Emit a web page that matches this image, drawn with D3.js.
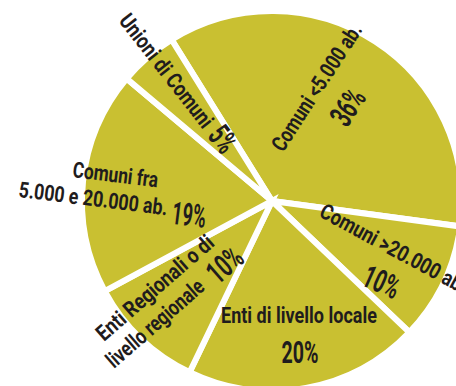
<!DOCTYPE html>
<html>
<head>
<meta charset="utf-8">
<script src="https://cdn.jsdelivr.net/npm/d3@7/dist/d3.min.js"></script>
<style>
  html, body { margin: 0; padding: 0; background: #ffffff; overflow: hidden; }
  svg { display: block; }
  text { font-family: 'Roboto', 'DejaVu Sans Condensed', sans-serif; font-weight: bold; fill: #1f1c1d; }
</style>
</head>
<body>
<svg id="chart" width="456" height="386"></svg>
<script>
// Slice order runs clockwise from the Unioni/Comuni boundary.
const categories = [
  "Comuni <5.000 ab.",
  "Comuni >20.000 ab.",
  "Enti di livello locale",
  "Enti Regionali o di livello regionale",
  "Comuni fra 5.000 e 20.000 ab.",
  "Unioni di Comuni"
];
const shares = [36, 10, 20, 10, 19, 5];
const pctLabels = shares.map(v => v + "%");

// Label text broken into the lines shown on each slice.
const nameLines = [
  ["Comuni <5.000 ab."],
  ["Comuni >20.000 ab."],
  ["Enti di livello locale"],
  ["Enti Regionali o di", "livello regionale"],
  ["Comuni fra", "5.000 e 20.000 ab."],
  ["Unioni di Comuni"]
];

const cx = 272, cy = 201, R = 190;
const fill = "#c9c031";
const NAME_SIZE = 22, PCT_SIZE = 32;

const svg = d3.select("#chart");
const g = svg.append("g").attr("transform", `translate(${cx},${cy})`);

const start = -31.9 * Math.PI / 180;
const pie = d3.pie().sort(null).value(d => d)
  .startAngle(start).endAngle(start + 2 * Math.PI);
const arc = d3.arc().innerRadius(0).outerRadius(R);

const slices = pie(shares);

g.selectAll("path.slice")
  .data(slices)
  .join("path")
  .attr("class", "slice")
  .attr("d", arc)
  .attr("fill", fill)
  .attr("stroke", "#ffffff")
  .attr("stroke-width", 6)
  .attr("stroke-linejoin", "miter");

// Label placement relative to the pie centre. Each name line: [x, y, width]
// (start of baseline, condensed to the given width). pct: either a separate
// centred text {x, y, rot, w} or appended after a line {after, gap, dy, w}.
const layout = [
  { rot: -57, lines: [[11, -48, 147]], pct: { x: 85, y: -88, rot: -57, w: 37 } },
  { rot: 28.5, lines: [[46, 15, 164]], pct: { x: 105, y: 91, rot: 24, w: 37 } },
  { rot: 0, anchor: "middle", lines: [[27, 122, 156]], pct: { x: 28, y: 162, rot: 0, w: 37 } },
  { rot: -41, lines: [[-168, 141, 148], [-158, 168, 122]], pct: { x: -40, y: 72, rot: -41, w: 37 } },
  { rot: 7, lines: [[-200, -24, 86], [-254, -4, 150]], pct: { after: 1, gap: 5, dy: 8, w: 34 } },
  { rot: 52, lines: [[-154, -180, 138]], pct: { after: 0, gap: 7, dy: 1, w: 25 } }
];

const labels = g.append("g").attr("class", "labels");

// Draw a text condensed horizontally to a target width.
function fitted(parent, str, size, width, anchor) {
  const t = parent.append("text")
    .attr("font-size", size)
    .attr("text-anchor", anchor)
    .text(str);
  const natural = t.node().getComputedTextLength();
  t.attr("transform", `scale(${width / natural},1)`);
  return t;
}

slices.forEach((s, i) => {
  const L = layout[i];
  nameLines[i].forEach((line, j) => {
    const [x, y, w] = L.lines[j];
    const grp = labels.append("g")
      .attr("transform", `translate(${x},${y}) rotate(${L.rot})`);
    fitted(grp, line, NAME_SIZE, w, L.anchor || "start");
    if (L.pct.after === j) {
      const pg = grp.append("g")
        .attr("transform", `translate(${w + L.pct.gap},${L.pct.dy})`);
      fitted(pg, pctLabels[i], PCT_SIZE, L.pct.w, "start");
    }
  });
  if (L.pct.after === undefined) {
    const pg = labels.append("g")
      .attr("transform", `translate(${L.pct.x},${L.pct.y}) rotate(${L.pct.rot})`);
    fitted(pg, pctLabels[i], PCT_SIZE, L.pct.w, "middle");
  }
});
</script>
</body>
</html>
